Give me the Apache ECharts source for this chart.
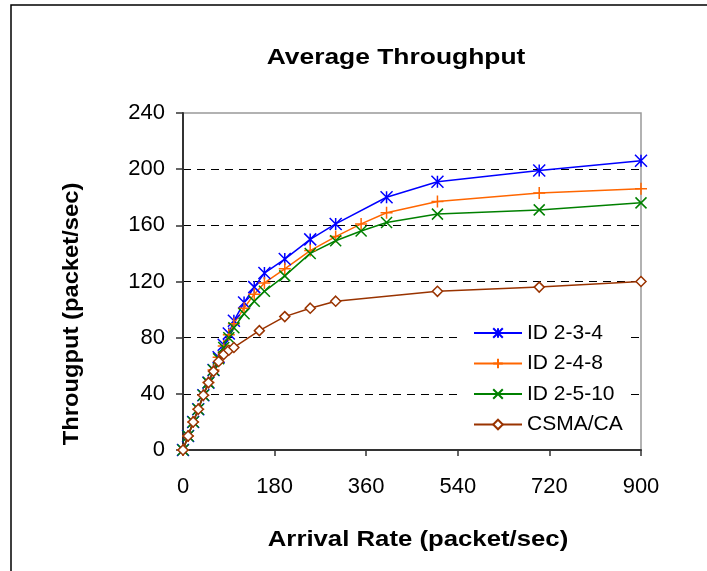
<!DOCTYPE html>
<html>
<head>
<meta charset="utf-8">
<script src="https://cdn.jsdelivr.net/npm/echarts@6/dist/echarts.min.js"></script>
<style>
    html, body {margin: 0; padding: 0; background: #fff;}
    #chart {width: 707px; height: 571px;}
</style>
</head>
<body>
<div id="chart"></div>
<script>
// arrival rate (packet/sec) for each series
var xId234 = [0, 10, 20, 30, 40, 50, 60, 70, 80, 90, 100, 120, 140, 160, 200, 250, 300, 400, 500, 700, 900];
var yId234 = [0, 10, 20, 29, 39, 48, 57, 66, 75, 83, 92, 105, 116, 126, 136, 150, 161, 180, 191, 199, 206];

var xId248 = [0, 10, 20, 30, 40, 50, 60, 70, 80, 90, 100, 120, 140, 160, 200, 250, 300, 350, 400, 500, 700, 900];
var yId248 = [0, 10, 20, 29, 39, 48, 57, 66, 74, 82, 90, 101, 111, 119, 129, 142, 152, 161, 169, 177, 183, 186];

var xId2510 = [0, 10, 20, 30, 40, 50, 60, 70, 80, 90, 100, 120, 140, 160, 200, 250, 300, 350, 400, 500, 700, 900];
var yId2510 = [0, 10, 20, 29, 39, 48, 57, 65, 73, 80, 87, 97, 106, 113, 124, 140, 149, 156, 162, 168, 171, 176];

var xCsma = [0, 10, 20, 30, 40, 50, 60, 70, 80, 90, 100, 150, 200, 250, 300, 500, 700, 900];
var yCsma = [0, 10, 20, 29, 39, 48, 56, 63, 68, 71, 73, 85, 95, 101, 106, 113, 116, 120];

var xTicks = [0, 180, 360, 540, 720, 900];
var yTicks = [0, 40, 80, 120, 160, 200, 240];

var FONT = '"Liberation Sans", Arial, sans-serif';

function pairs(xs, ys) {
    return xs.map(function (x, i) { return [x, ys[i]]; });
}

/**Excel style markers*/
var ASTERISK = 'path://M0,0L10,10M0,10L10,0M5,0L5,10';
var PLUS = 'path://M5,0L5,10M0,5L10,5';
var CROSS = 'path://M0,0L10,10M0,10L10,0';

function lineSeries(name, data, color, symbol, size, fill) {
    return {
        name: name,
        type: 'line',
        data: data,
        symbol: symbol,
        symbolSize: size,
        showAllSymbol: true,
        lineStyle: {color: color, width: 1.5},
        itemStyle: {color: fill || color, borderColor: color, borderWidth: 1.5},
        emphasis: {disabled: true},
        animation: false
    };
}

var chart = echarts.init(document.getElementById('chart'));
chart.setOption({
    backgroundColor: '#fff',
    animation: false,
    grid: {
        left: 183, top: 113, width: 458, height: 337,
        show: true, borderColor: '#999', borderWidth: 1.5, backgroundColor: 'transparent'
    },
    xAxis: {
        type: 'value',
        min: xTicks[0], max: xTicks[xTicks.length - 1], interval: 180,
        axisLine: {lineStyle: {color: '#333', width: 2}},
        axisTick: {show: true, length: 6, lineStyle: {color: '#333', width: 1.5}},
        axisLabel: {color: '#000', fontFamily: FONT, fontSize: 22, margin: 26},
        splitLine: {show: false}
    },
    yAxis: {
        type: 'value',
        min: yTicks[0], max: yTicks[yTicks.length - 1], interval: 40,
        axisLine: {show: true, lineStyle: {color: '#333', width: 2}},
        axisTick: {show: true, length: 7, lineStyle: {color: '#333', width: 1.5}},
        axisLabel: {color: '#000', fontFamily: FONT, fontSize: 22, margin: 18},
        splitLine: {
            show: true, showMinLine: false, showMaxLine: false,
            lineStyle: {color: '#000', width: 1, type: [8, 6]}
        }
    },
    legend: {
        orient: 'vertical',
        left: 463, top: 312, padding: [10, 8, 8, 10],
        backgroundColor: '#fff',
        itemWidth: 48, itemHeight: 12, itemGap: 8.5,
        textStyle: {color: '#000', fontFamily: FONT, fontSize: 21, lineHeight: 22},
        data: ['ID 2-3-4', 'ID 2-4-8', 'ID 2-5-10', 'CSMA/CA']
    },
    graphic: [
        {
            type: 'rect', silent: true,
            shape: {x: 11, y: 5, width: 760, height: 640},
            style: {fill: 'none', stroke: '#000', lineWidth: 1.5}
        },
        {
            type: 'text', x: 396, y: 58, scaleX: 1.2, silent: true,
            style: {text: 'Average Throughput', font: 'bold 22px ' + FONT, fill: '#000', align: 'center', verticalAlign: 'middle'}
        },
        {
            type: 'text', x: 418, y: 540, scaleX: 1.17, silent: true,
            style: {text: 'Arrival Rate (packet/sec)', font: 'bold 22px ' + FONT, fill: '#000', align: 'center', verticalAlign: 'middle'}
        },
        {
            type: 'text', x: 72, y: 314, rotation: Math.PI / 2, scaleX: 1.08, silent: true,
            style: {text: 'Througput (packet/sec)', font: 'bold 22px ' + FONT, fill: '#000', align: 'center', verticalAlign: 'middle'}
        }
    ],
    series: [
        lineSeries('ID 2-3-4', pairs(xId234, yId234), '#0000ff', ASTERISK, 12),
        lineSeries('ID 2-4-8', pairs(xId248, yId248), '#ff6600', PLUS, 12),
        lineSeries('ID 2-5-10', pairs(xId2510, yId2510), '#008000', CROSS, 11),
        lineSeries('CSMA/CA', pairs(xCsma, yCsma), '#993300', 'diamond', 10, '#fff')
    ]
});
</script>
</body>
</html>
